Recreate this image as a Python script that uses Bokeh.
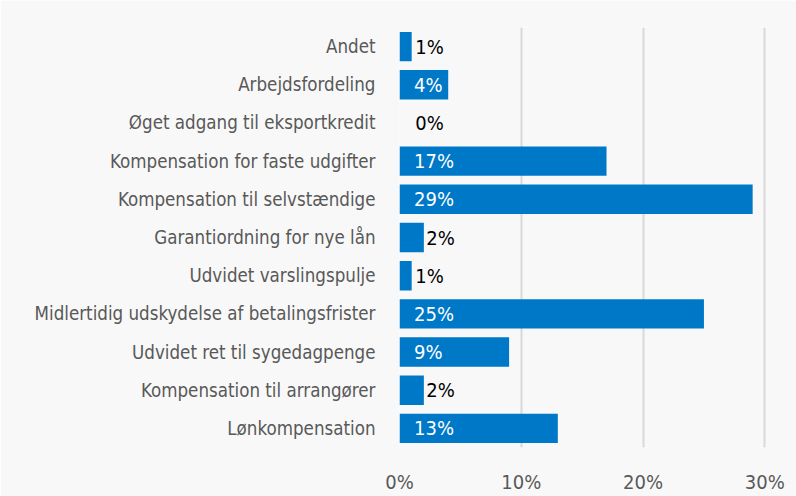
from bokeh.plotting import figure
from bokeh.models import ColumnDataSource, NumeralTickFormatter, FixedTicker
from bokeh.core.properties import value
from bokeh.embed import file_html
from bokeh.resources import INLINE

categories = [
    "Andet",
    "Arbejdsfordeling",
    "Øget adgang til eksportkredit",
    "Kompensation for faste udgifter",
    "Kompensation til selvstændige",
    "Garantiordning for nye lån",
    "Udvidet varslingspulje",
    "Midlertidig udskydelse af betalingsfrister",
    "Udvidet ret til sygedagpenge",
    "Kompensation til arrangører",
    "Lønkompensation",
]
values = [0.01, 0.04, 0.0, 0.17, 0.29, 0.02, 0.01, 0.25, 0.09, 0.02, 0.13]
labels = ["1%", "4%", "0%", "17%", "29%", "2%", "1%", "25%", "9%", "2%", "13%"]
ticks = [0, 0.1, 0.2, 0.3]

FONT = "DejaVu Sans Condensed"
BG = "#f8f8f8"

inside = [v >= 0.04 for v in values]
lab_x = [0.012 if ins else max(v, 0.011) + 0.002 for v, ins in zip(values, inside)]
lab_col = ["white" if ins else "black" for ins in inside]

src = ColumnDataSource(dict(cat=categories, val=values))
lsrc = ColumnDataSource(dict(cat=categories, x=lab_x, txt=labels, col=lab_col))

p = figure(width=796, height=496, y_range=list(reversed(categories)),
           x_range=(0, 0.326), output_backend="svg", toolbar_location=None,
           min_border_left=399, min_border_right=0, min_border_top=27,
           min_border_bottom=41)
p.y_range.range_padding = 0
p.background_fill_color = BG
p.border_fill_color = BG
p.outline_line_color = None

p.hbar(y="cat", right="val", left=0, height=0.77, source=src,
       fill_color="#0078c8", line_color=None)
p.text(x="x", y="cat", text="txt", source=lsrc, text_color="col",
       text_font=value(FONT), text_font_size="20px", text_baseline="middle",
       text_align="left")

p.xaxis.ticker = FixedTicker(ticks=ticks)
p.xaxis.formatter = NumeralTickFormatter(format="0%")
p.xaxis.axis_line_color = None
p.xaxis.major_tick_line_color = None
p.xaxis.minor_tick_line_color = None
p.xaxis.major_label_text_font = FONT
p.xaxis.major_label_text_font_size = "20px"
p.xaxis.major_label_text_color = "#595959"
p.xaxis.major_label_standoff = 16

p.yaxis.axis_line_color = None
p.yaxis.major_tick_line_color = None
p.yaxis.minor_tick_line_color = None
p.yaxis.major_label_text_font = FONT
p.yaxis.major_label_text_font_size = "18.6px"
p.yaxis.major_label_text_color = "#595959"
p.yaxis.major_label_standoff = 18

p.ygrid.grid_line_color = None
p.xgrid.grid_line_color = "#d9d9d9"
p.xgrid.grid_line_width = 2

open("out.html", "w").write(file_html(p, INLINE))
